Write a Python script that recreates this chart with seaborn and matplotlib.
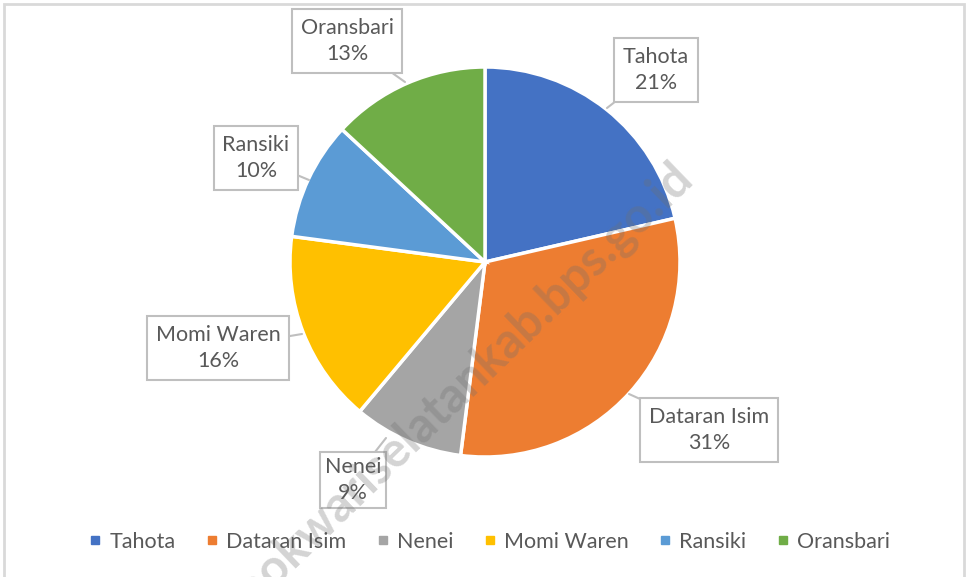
import matplotlib
matplotlib.use("Agg")
import matplotlib.pyplot as plt
import seaborn as sns
from matplotlib.lines import Line2D

categories = ["Tahota", "Dataran Isim", "Nenei", "Momi Waren", "Ransiki", "Oransbari"]
values = [21.4, 30.6, 9.1, 16.0, 9.8, 13.1]
colors = ["#4472C4", "#ED7D31", "#A5A5A5", "#FFC000", "#5B9BD5", "#70AD47"]
watermark = "manokwariselatankab.bps.go.id"

sns.set_theme(style="white")
plt.rcParams["font.family"] = ["Lato", "DejaVu Sans"]

W, H = 968, 577
fig = plt.figure(figsize=(W / 100, H / 100), dpi=100)
ax = fig.add_axes([0, 0, 1, 1])

def P(x, y):
    return (x, H - y)

palette = sns.color_palette(colors)
cx, cy = P(485, 262)
wedges, _ = ax.pie(values, colors=palette, startangle=90, counterclock=False,
                   center=(cx, cy), radius=195, frame=True,
                   wedgeprops=dict(edgecolor="white", linewidth=2.5))
ax.set_xlim(0, W)
ax.set_ylim(0, H)
ax.set_aspect("equal")
ax.axis("off")

label_pos = {
    "Tahota": ((656, 70), (607, 108)),
    "Dataran Isim": ((709, 430), (629, 394)),
    "Nenei": ((353, 480), (386, 438)),
    "Momi Waren": ((218, 348), (302, 334)),
    "Ransiki": ((256, 158), (309, 180)),
    "Oransbari": ((347, 41), (405, 82)),
}

total = sum(values)
for cat, v in zip(categories, values):
    (tx, ty), (px, py) = label_pos[cat]
    pad = 0.22 if cat == "Nenei" else 0.4
    ax.annotate(f"{cat}\n{round(v / total * 100):d}%", xy=P(px, py), xytext=P(tx, ty),
                ha="center", va="center", multialignment="center",
                fontsize=15.5, color="#595959", linespacing=1.4,
                bbox=dict(boxstyle=f"square,pad={pad}", fc="white", ec="#BFBFBF", lw=1.5),
                arrowprops=dict(arrowstyle="-", color="#BFBFBF", lw=1.5,
                                shrinkA=0, shrinkB=0),
                zorder=5)

# watermark
ax.text(*P(694, 180), watermark, rotation=44, rotation_mode="anchor",
        ha="right", va="baseline", fontsize=35, fontweight="bold",
        family="Lato", color="#6F6F6F", alpha=0.3, zorder=10)

# legend
handles = [Line2D([0], [0], marker="s", linestyle="none", markersize=6,
                  markerfacecolor=c, markeredgecolor=c) for c in palette]
fig.legend(handles, categories, loc="center", bbox_to_anchor=(490 / W, 1 - 542 / H),
           ncol=6, frameon=False, fontsize=15.5, labelcolor="#595959",
           handlelength=0.5, handletextpad=0.4, columnspacing=1.45)

# figure border
ax.plot([4, 4, 964, 964], [0, H - 4, H - 4, 0], color="#D9D9D9", lw=2,
        solid_joinstyle="miter", zorder=1)

fig.savefig("out.png", dpi=100)
